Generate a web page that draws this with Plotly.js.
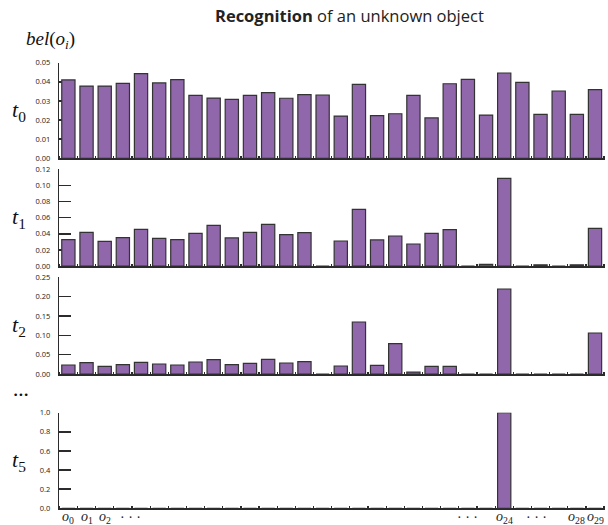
<!DOCTYPE html>
<html>
<head>
<meta charset="utf-8">
<script src="https://cdn.plot.ly/plotly-3.0.1.min.js"></script>
<style>html,body{margin:0;padding:0;background:#fff}</style>
</head>
<body>
<div id="chart" style="width:608px;height:525px"></div>
<script>
// ---- data ----
const objects = Array.from({length: 30}, (_, i) => i); // o_0 ... o_29
const bel_t0 = [0.0410,0.0378,0.0378,0.0392,0.0443,0.0394,0.0411,0.0329,0.0315,0.0308,
                0.0329,0.0343,0.0314,0.0333,0.0331,0.0221,0.0387,0.0223,0.0233,0.0329,
                0.0211,0.0390,0.0413,0.0226,0.0446,0.0397,0.0230,0.0352,0.0230,0.0359];
const bel_t1 = [0.0327,0.0418,0.0306,0.0352,0.0455,0.0343,0.0327,0.0405,0.0505,0.0348,
                0.0418,0.0517,0.0389,0.0414,0.0000,0.0310,0.0703,0.0323,0.0372,0.0273,
                0.0405,0.0451,0.0000,0.0020,0.1088,0.0000,0.0015,0.0000,0.0015,0.0468];
const bel_t2 = [0.0233,0.0293,0.0198,0.0241,0.0302,0.0259,0.0233,0.0310,0.0371,0.0241,
                0.0276,0.0379,0.0284,0.0319,0.0000,0.0207,0.1345,0.0224,0.0784,0.0050,
                0.0198,0.0198,0.0000,0.0000,0.2198,0.0000,0.0000,0.0000,0.0000,0.1060];
const bel_t5 = [0,0,0,0,0,0,0,0,0,0, 0,0,0,0,0,0,0,0,0,0, 0,0,0,0,1.0,0,0,0,0,0];

const panelLabels = ['<i>t</i><sub>0</sub>','<i>t</i><sub>1</sub>','<i>t</i><sub>2</sub>','<i>t</i><sub>5</sub>'];
const yTicks = [[0,0.01,0.02,0.03,0.04,0.05],[0,0.02,0.04,0.06,0.08,0.10,0.12],
                [0,0.05,0.10,0.15,0.20,0.25],[0,0.2,0.4,0.6,0.8,1.0]];
const yRanges = [[0,0.05],[0,0.12],[0,0.25],[0,1.0]];
const yFormats = ['.2f','.2f','.2f','.1f'];
const xTickVals = [0,1,2,3.44,22,24,25.8,28,29];
const xTickText = ['<i>o</i><sub>0</sub>','<i>o</i><sub>1</sub>','<i>o</i><sub>2</sub>','· · ·',
                   '· · ·','<i>o</i><sub>24</sub>','· · ·','<i>o</i><sub>28</sub>','<i>o</i><sub>29</sub>'];

// ---- layout helpers ----
const W = 608, H = 525;
const px = x => x / W, py = y => 1 - y / H;
const panelPix = [[62.7,158.3],[169.3,266],[277.3,374],[412.7,508.3]];
const xDomain = [px(59.3), px(605)];
const series = [bel_t0, bel_t1, bel_t2, bel_t5];
const barColor = 'rgb(143,103,170)';
const ink = '#2b2b2b';

const traces = series.map((vals, k) => ({
  type: 'bar', x: objects, y: vals,
  xaxis: 'x' + (k === 0 ? '' : k + 1), yaxis: 'y' + (k === 0 ? '' : k + 1),
  marker: {color: barColor, line: {color: '#333', width: 1.2}},
  hoverinfo: 'x+y', showlegend: false
}));

const layout = {
  width: W, height: H,
  margin: {l: 0, r: 0, t: 0, b: 0},
  paper_bgcolor: '#fff', plot_bgcolor: '#fff',
  bargap: 0.27,
  showlegend: false,
  annotations: []
};

for (let k = 0; k < 4; k++) {
  const s = k === 0 ? '' : String(k + 1);
  const [top, bot] = panelPix[k];
  layout['xaxis' + s] = {
    domain: xDomain, range: [-0.5, 29.55], anchor: 'y' + s,
    showline: true, linecolor: ink, linewidth: 1.5,
    showgrid: false, zeroline: false,
    ticks: '', showticklabels: false,
    minor: {tickmode: 'linear', tick0: 0.5, dtick: 1, ticks: 'inside', ticklen: 2.5, tickwidth: 1.2, tickcolor: ink, showgrid: false},
    layer: 'below traces', fixedrange: true
  };
  layout['yaxis' + s] = {
    domain: [py(bot), py(top)], range: yRanges[k], anchor: 'x' + s,
    showline: true, linecolor: ink, linewidth: 1.5,
    showgrid: false, zeroline: false,
    ticks: 'inside', ticklen: 12, tickwidth: 1.5, tickcolor: ink,
    tickmode: 'array', tickvals: yTicks[k], tickformat: yFormats[k],
    ticklabelstandoff: 6,
    tickfont: {family: 'Open Sans, sans-serif', size: 7.5, color: '#222'},
    layer: 'below traces', fixedrange: true
  };
  layout.annotations.push({
    xref: 'paper', yref: 'paper', x: px(19), y: py((top + bot) / 2),
    text: panelLabels[k], showarrow: false, xanchor: 'center', yanchor: 'middle',
    font: {family: 'Liberation Serif, serif', size: 22, color: '#111'}
  });
}

// category labels under the bottom panel, positioned on its x axis
xTickVals.forEach((v, i) => {
  layout.annotations.push({
    xref: 'x4', yref: 'paper', x: v, y: py(517.5),
    text: xTickText[i], showarrow: false, xanchor: 'center', yanchor: 'middle',
    font: {family: 'Liberation Serif, serif', size: 14, color: '#222'}
  });
});

layout.annotations.push({
  xref: 'paper', yref: 'paper', x: px(50), y: py(40),
  text: '<i>bel</i>(<i>o</i><sub><i>i</i></sub>)', showarrow: false,
  xanchor: 'center', yanchor: 'middle',
  font: {family: 'Liberation Serif, serif', size: 19, color: '#111'}
});
layout.annotations.push({
  xref: 'paper', yref: 'paper', x: px(21), y: py(395),
  text: '•••', showarrow: false, xanchor: 'center', yanchor: 'middle',
  font: {family: 'DejaVu Sans, sans-serif', size: 9, color: '#111'}
});
layout.annotations.push({
  xref: 'paper', yref: 'paper', x: px(349), y: py(15),
  text: '<b>Recognition</b> of an unknown object', showarrow: false,
  xanchor: 'center', yanchor: 'middle',
  font: {family: 'Open Sans, sans-serif', size: 16.5, color: '#222'}
});

Plotly.newPlot('chart', traces, layout, {displayModeBar: false, staticPlot: true});
</script>
</body>
</html>
